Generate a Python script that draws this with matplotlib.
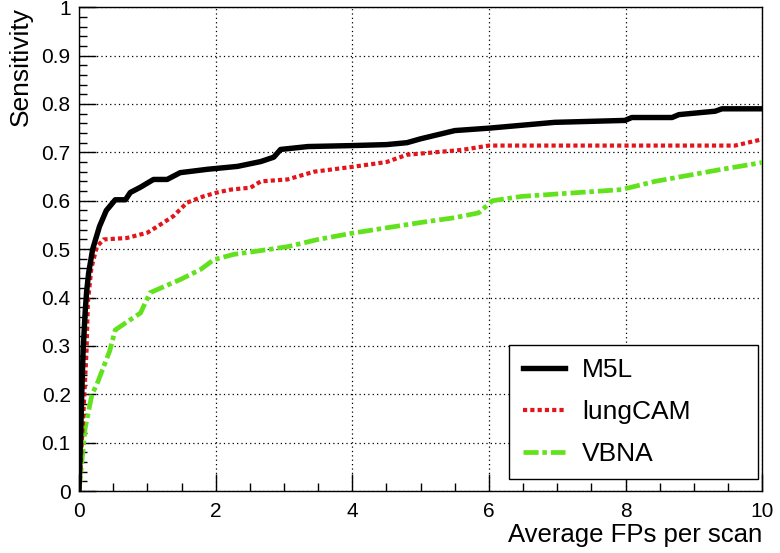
import matplotlib
matplotlib.use("Agg")
import matplotlib.pyplot as plt
from matplotlib.ticker import MultipleLocator, FixedLocator

plt.rcParams['font.family'] = ['Liberation Sans', 'DejaVu Sans']

# ---- data ----
m5l_x = [0.0, 0.02, 0.04, 0.06, 0.09, 0.11, 0.14, 0.2, 0.3, 0.4, 0.46, 0.53, 0.68, 0.75,
         0.9, 1.09, 1.29, 1.48, 1.88, 2.32, 2.66, 2.85, 2.95, 3.35, 4.0, 4.5, 4.8, 5.0,
         5.5, 6.0, 6.48, 6.96, 7.99, 8.09, 8.68, 8.78, 9.31, 9.41, 10.0]
m5l_y = [0.0, 0.10, 0.20, 0.29, 0.37, 0.41, 0.45, 0.50, 0.547, 0.58, 0.59, 0.602, 0.602, 0.617,
         0.628, 0.644, 0.644, 0.658, 0.665, 0.671, 0.681, 0.69, 0.706, 0.712, 0.714, 0.716, 0.72, 0.728,
         0.745, 0.75, 0.756, 0.762, 0.766, 0.772, 0.772, 0.778, 0.785, 0.79, 0.79]

lungcam_x = [0.0, 0.01, 0.06, 0.11, 0.13, 0.18, 0.26, 0.36, 0.7, 1.0, 1.15, 1.38, 1.58, 1.82,
             2.02, 2.22, 2.51, 2.66, 3.05, 3.44, 4.0, 4.5, 4.8, 5.2, 5.6, 6.0, 9.6, 10.0]
lungcam_y = [0.0, 0.02, 0.15, 0.29, 0.39, 0.46, 0.505, 0.52, 0.523, 0.534, 0.547, 0.568, 0.596, 0.609,
             0.617, 0.623, 0.627, 0.64, 0.644, 0.66, 0.67, 0.68, 0.695, 0.70, 0.705, 0.714, 0.714, 0.727]

vbna_x = [0.0, 0.09, 0.19, 0.26, 0.45, 0.53, 0.75, 0.9, 1.04, 1.48, 1.78, 1.97, 2.26, 2.76,
          3.05, 3.5, 4.0, 5.0, 5.5, 5.85, 6.05, 6.48, 7.94, 8.43, 9.41, 10.0]
vbna_y = [0.0, 0.13, 0.20, 0.22, 0.29, 0.333, 0.354, 0.368, 0.41, 0.437, 0.458, 0.478, 0.489, 0.499,
          0.505, 0.52, 0.533, 0.555, 0.565, 0.575, 0.60, 0.609, 0.623, 0.64, 0.665, 0.679]

labels = ["M5L", "lungCAM", "VBNA"]
x_ticks = [0, 2, 4, 6, 8, 10]
x_ticklabels = ["0", "2", "4", "6", "8", "10"]
y_ticks = [0.0, 0.1, 0.2, 0.3, 0.4, 0.5, 0.6, 0.7, 0.8, 0.9, 1.0]
y_ticklabels = ["0", "0.1", "0.2", "0.3", "0.4", "0.5", "0.6", "0.7", "0.8", "0.9", "1"]

fig = plt.figure(figsize=(7.8, 5.53), dpi=100)
ax = fig.add_axes([0.1013, 0.112, 0.876, 0.875])

ax.plot(m5l_x, m5l_y, color='black', lw=3.9, solid_joinstyle='round', label=labels[0], zorder=5)
ax.plot(lungcam_x, lungcam_y, color='#e3151a', lw=3.0, linestyle=(0, (1.0, 0.75)), label=labels[1], zorder=4)
ax.plot(vbna_x, vbna_y, color='#62e21c', lw=3.4, linestyle=(0, (3.2, 0.8, 0.95, 0.85)), label=labels[2], zorder=3)

ax.set_xlim(0, 10)
ax.set_ylim(0, 1)
ax.xaxis.set_major_locator(FixedLocator(x_ticks))
ax.set_xticklabels(x_ticklabels)
ax.xaxis.set_minor_locator(MultipleLocator(0.5))
ax.yaxis.set_major_locator(FixedLocator(y_ticks))
ax.set_yticklabels(y_ticklabels)
ax.yaxis.set_minor_locator(MultipleLocator(0.02))

ax.tick_params(which='both', direction='in', top=False, right=False, labelsize=15, width=1, color='black')
ax.tick_params(which='major', length=12)
ax.tick_params(axis='x', which='major', pad=8)
ax.tick_params(axis='y', which='major', pad=6)
ax.tick_params(which='minor', length=6)
ax.grid(True, which='major', linestyle=(0, (1, 2.5)), color='black', lw=0.9)

for s in ax.spines.values():
    s.set_linewidth(1.0)

ax.set_xlabel("Average FPs per scan", fontsize=18.5, loc='right', labelpad=1)
ax.set_ylabel("Sensitivity", fontsize=19, loc='top', labelpad=6)

leg = ax.legend(loc='lower left', bbox_to_anchor=(0.63, 0.025, 0.363, 0.285), mode='expand',
                fontsize=19, frameon=True, fancybox=False, edgecolor='black', framealpha=1,
                handlelength=1.6, handletextpad=0.65, labelspacing=0.68, borderpad=0.5,
                borderaxespad=0)
leg.get_frame().set_linewidth(1.0)

fig.savefig("out.png", dpi=100)
